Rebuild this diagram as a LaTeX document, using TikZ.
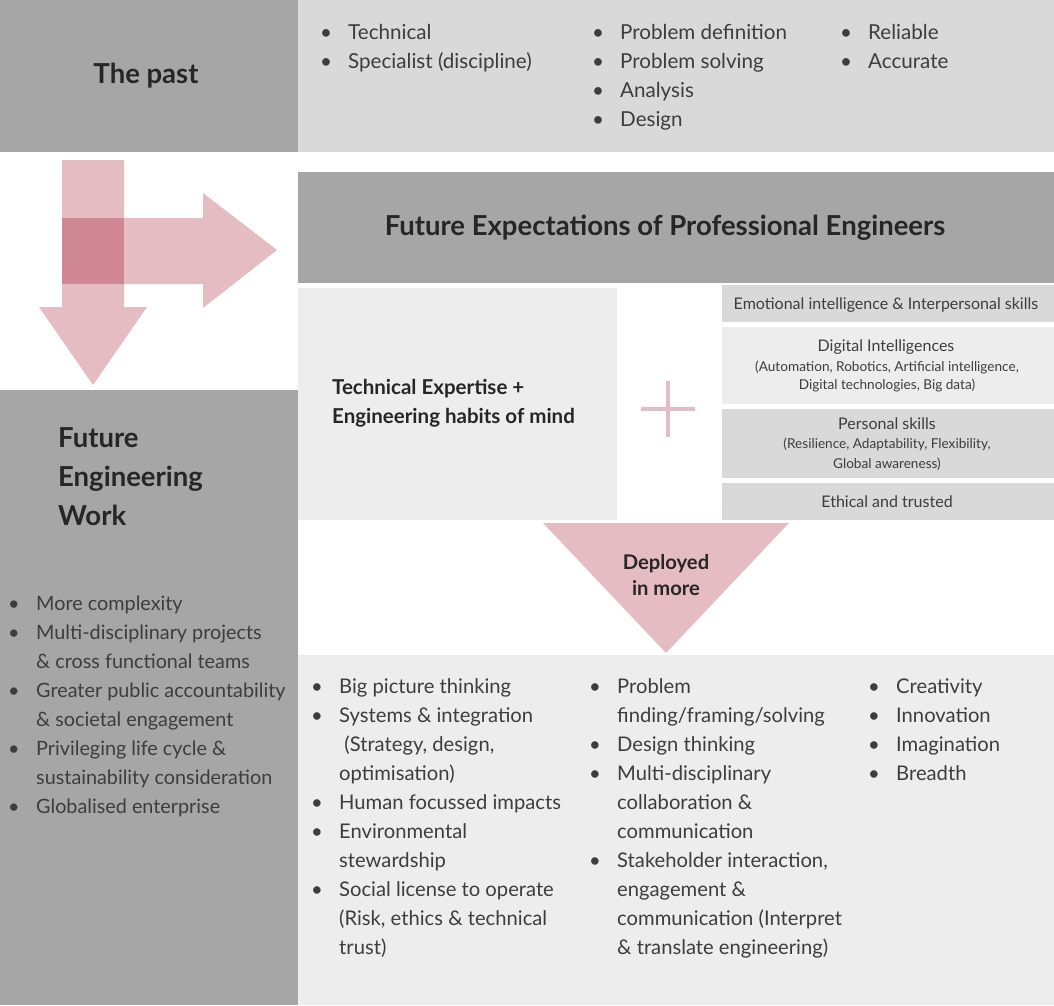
\documentclass[tikz,border=0pt]{standalone}
\usepackage{fontspec}
\setmainfont{Lato}
\definecolor{dgray}{HTML}{A6A6A6}
\definecolor{lgray}{HTML}{D9D9D9}
\definecolor{vlgray}{HTML}{EDEDED}
\definecolor{pinkA}{HTML}{E6BCC3}
\definecolor{pinkB}{HTML}{CF8893}
\definecolor{txt}{HTML}{3D3D3D}
\definecolor{ttl}{HTML}{262626}
\newcommand{\bu}{\makebox[28pt][l]{\textbullet}}
\newcommand{\nb}{\makebox[28pt][l]{}}
\newcommand{\blist}[2][20.2]{\fontsize{#1}{29}\selectfont\begin{tabular}[t]{@{}l@{}}#2\end{tabular}}
\tikzset{
  x=1pt, y=-1pt,
  lst/.style={anchor=base west, inner sep=0pt, text=txt},
  bigttl/.style={inner sep=0pt, text=ttl, font=\fontsize{27.5}{30}\selectfont\bfseries},
  boxtxt/.style={anchor=base, inner sep=0pt, text=txt, font=\fontsize{16}{18}\selectfont},
  boxsub/.style={anchor=base, inner sep=0pt, text=txt, font=\fontsize{13.6}{16}\selectfont},
  midttl/.style={inner sep=0pt, text=ttl, font=\fontsize{20.5}{29}\selectfont\bfseries},
}
\begin{document}
\begin{tikzpicture}
\useasboundingbox (0,0) rectangle (1054,1005);
% top band
\fill[dgray] (0,0) rectangle (298,152);
\fill[lgray] (298,0) rectangle (1054,152);
\node[bigttl] (past) at (146,76) {The past};
\node[lst] (p1) at (320,39) {\blist[20.6]{\bu Technical\\ \bu Specialist (discipline)}};
\node[lst] (p2) at (592,39) {\blist[20.6]{\bu Problem definition\\ \bu Problem solving\\ \bu Analysis\\ \bu Design}};
\node[lst] (p3) at (840,39) {\blist[20.6]{\bu Reliable\\ \bu Accurate}};
% arrows
\fill[pinkA] (62,160) -- (124,160) -- (124,307) -- (147,307) -- (93,385) -- (39,307) -- (62,307) -- cycle;
\fill[pinkA] (124,218) -- (203,218) -- (203,193) -- (277,250) -- (203,308) -- (203,284) -- (124,284) -- cycle;
\fill[pinkB] (62,218) rectangle (124,284);
% header
\fill[dgray] (298,172) rectangle (1054,283);
\node[bigttl] (fe) at (665,228) {Future Expectations of Professional Engineers};
% technical expertise panel
\fill[vlgray] (298,288) rectangle (617,520);
\node[midttl, anchor=base west, align=left] (te) at (332,423) {Technical Expertise +\\Engineering habits of mind};
% plus
\coordinate (plc) at (668,409);
\draw[pinkA, line width=3.5pt] ([xshift=-27pt]plc) -- ([xshift=27pt]plc);
\draw[pinkA, line width=3.5pt] ([yshift=-28pt]plc) -- ([yshift=28pt]plc);
% right boxes
\fill[lgray] (722,285) rectangle (1054,322);
\node[boxtxt] (r1) at (886,309) {Emotional intelligence \& Interpersonal skills};
\fill[vlgray] (722,327) rectangle (1054,404);
\node[boxtxt] (r2) at (886,351) {Digital Intelligences};
\node[boxsub] (r2a) at (887,371) {(Automation, Robotics, Artificial intelligence,};
\node[boxsub] (r2b) at (887,389) {Digital technologies, Big data)};
\fill[lgray] (722,409) rectangle (1054,478);
\node[boxtxt] (r3) at (887,429) {Personal skills};
\node[boxsub] (r3a) at (887,448) {(Resilience, Adaptability, Flexibility,};
\node[boxsub] (r3b) at (887,468) {Global awareness)};
\fill[lgray] (722,483) rectangle (1054,520);
\node[boxtxt] (r4) at (887,507) {Ethical and trusted};
% triangle
\fill[pinkA] (543,523) -- (789,523) -- (666,653) -- cycle;
\node[midttl, align=center, font=\fontsize{20.2}{26}\selectfont\bfseries] (dep) at (666,575) {Deployed\\in more};
% left big box
\fill[dgray] (0,390) rectangle (298,1005);
\node[bigttl, anchor=base west, align=left, font=\fontsize{27.5}{39}\selectfont\bfseries] (few) at (58,525) {Future\\Engineering\\Work};
\node[lst] (l1) at (8,610) {\blist[19.8]{\bu More complexity\\ \bu Multi-disciplinary projects\\ \nb \& cross functional teams\\ \bu Greater public accountability\\ \nb \& societal engagement\\ \bu Privileging life cycle \&\\ \nb sustainability consideration\\ \bu Globalised enterprise}};
% bottom panel
\fill[vlgray] (298,655) rectangle (1054,1005);
\node[lst] (b1) at (311,693) {\blist{\bu Big picture thinking\\ \bu Systems \& integration\\ \nb \ (Strategy, design,\\ \nb optimisation)\\ \bu Human focussed impacts\\ \bu Environmental\\ \nb stewardship\\ \bu Social license to operate\\ \nb (Risk, ethics \& technical\\ \nb trust)}};
\node[lst] (b2) at (589,693) {\blist{\bu Problem\\ \nb finding/framing/solving\\ \bu Design thinking\\ \bu Multi-disciplinary\\ \nb collaboration \&\\ \nb communication\\ \bu Stakeholder interaction,\\ \nb engagement \&\\ \nb communication (Interpret\\ \nb \& translate engineering)}};
\node[lst] (b3) at (868,693) {\blist{\bu Creativity\\ \bu Innovation\\ \bu Imagination\\ \bu Breadth}};
\end{tikzpicture}
\end{document}
